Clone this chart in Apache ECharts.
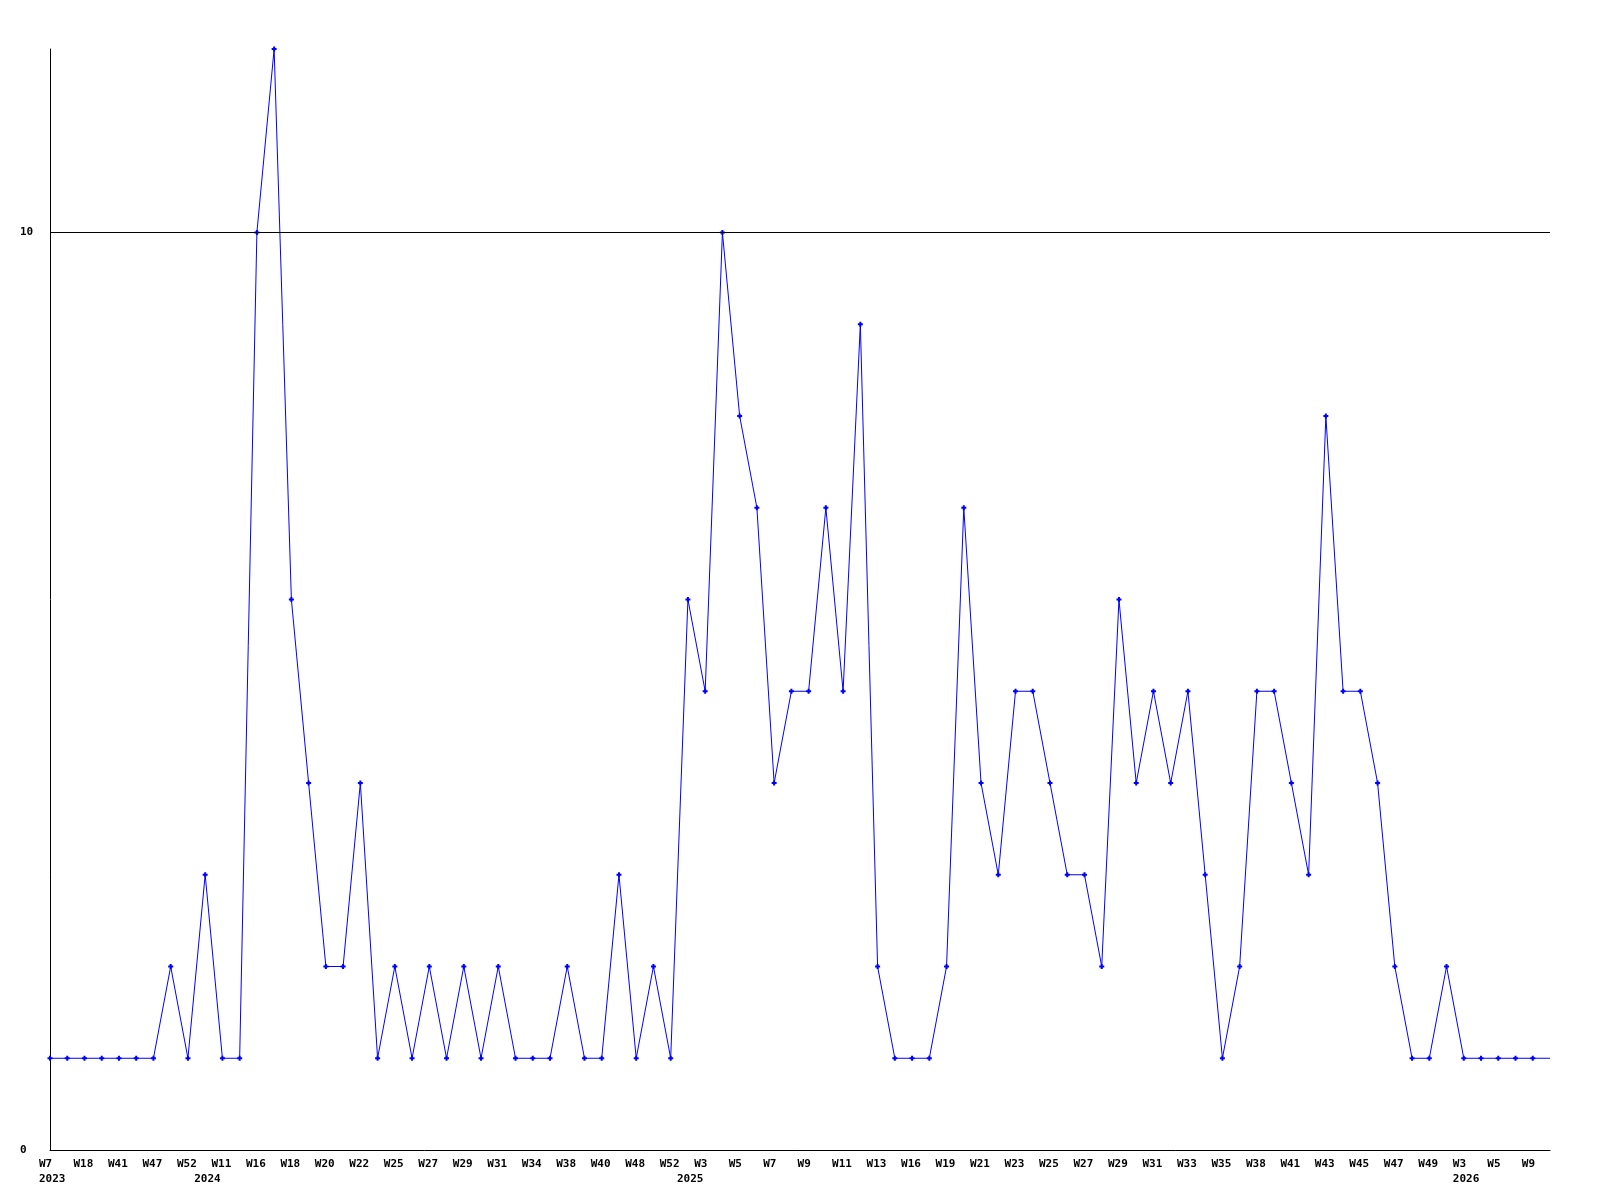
<!DOCTYPE html>
<html>
<head>
<meta charset="utf-8">
<script src="https://cdn.jsdelivr.net/npm/echarts@6/dist/echarts.min.js"></script>
<style>
  html, body { margin: 0; padding: 0; background: #fff; }
  #chart { width: 1600px; height: 1200px; }
</style>
</head>
<body>
<div id="chart"></div>
<script>
// one entry per observation, only every other week label is printed
const weeks = [
  "W7", "W12", "W18", "W35", "W41", "W45", "W47", "W50", "W52", "W5",
  "W11", "W14", "W16", "W17", "W18", "W19", "W20", "W21", "W22", "W24",
  "W25", "W26", "W27", "W28", "W29", "W30", "W31", "W33", "W34", "W36",
  "W38", "W39", "W40", "W44", "W48", "W50", "W52", "W2", "W3", "W4",
  "W5", "W6", "W7", "W8", "W9", "W10", "W11", "W12", "W13", "W15",
  "W16", "W18", "W19", "W20", "W21", "W22", "W23", "W24", "W25", "W26",
  "W27", "W28", "W29", "W30", "W31", "W32", "W33", "W34", "W35", "W37",
  "W38", "W40", "W41", "W42", "W43", "W44", "W45", "W46", "W47", "W48",
  "W49", "W51", "W3", "W4", "W5", "W7", "W9"
];
const yearIndex = [0, 9, 37, 82];
const yearText = ["2023", "2024", "2025", "2026"];
const values = [
  1, 1, 1, 1, 1, 1, 1, 2, 1, 3,
  1, 1, 10, 12, 6, 4, 2, 2, 4, 1,
  2, 1, 2, 1, 2, 1, 2, 1, 1, 1,
  2, 1, 1, 3, 1, 2, 1, 6, 5, 10,
  8, 7, 4, 5, 5, 7, 5, 9, 2, 1,
  1, 1, 2, 7, 4, 3, 5, 5, 4, 3,
  3, 2, 6, 4, 5, 4, 5, 3, 1, 2,
  5, 5, 4, 3, 8, 5, 5, 4, 2, 1,
  1, 2, 1, 1, 1, 1, 1
];
// current (unfinished) week, drawn as a line without a marker
const currentValue = 1;
const yTicks = [0, 10];

const chart = echarts.init(document.getElementById("chart"));
const font = "'DejaVu Sans Mono', monospace";

const points = values.map((v, i) => [i, v]);
points.push({ value: [values.length, currentValue], symbol: "none" });

const option = {
  animation: false,
  backgroundColor: "#fff",
  grid: { left: 50, right: 50, top: 49, bottom: 50 },
  xAxis: {
    type: "value",
    min: 0,
    max: values.length,
    interval: 1,
    splitLine: { show: false },
    axisTick: { show: false },
    axisLine: { lineStyle: { color: "#000", width: 1 } },
    axisLabel: {
      margin: 7,
      align: "center",
      showMinLabel: true,
      showMaxLabel: true,
      formatter: function (v) {
        const i = Math.round(v);
        if (i >= weeks.length) return "";
        const yi = yearIndex.indexOf(i);
        const wk = i % 2 === 0 ? weeks[i] : "";
        if (!wk && yi < 0) return "";
        let s = "{a|" + (wk || " ") + "}";
        if (yi >= 0) s += "\n{a|" + yearText[yi] + "}";
        return s;
      },
      rich: {
        a: {
          width: 22,
          align: "left",
          lineHeight: 15,
          fontFamily: font,
          fontWeight: "bold",
          fontSize: 11,
          color: "#000"
        }
      }
    }
  },
  yAxis: {
    type: "value",
    min: 0,
    max: 12,
    interval: 10,
    splitLine: { show: false },
    axisTick: { show: false },
    axisLine: { show: true, lineStyle: { color: "#000", width: 1 } },
    axisLabel: {
      margin: 30,
      align: "left",
      color: "#000",
      fontFamily: font,
      fontWeight: "bold",
      fontSize: 11,
      formatter: function (v) {
        return yTicks.indexOf(v) >= 0 ? String(v) : "";
      }
    }
  },
  series: [
    {
      type: "line",
      data: points,
      symbol: "path://M1.5,0H3.5V1.5H5V3.5H3.5V5H1.5V3.5H0V1.5H1.5Z",
      symbolSize: 5,
      showAllSymbol: true,
      lineStyle: { color: "#0000ff", width: 1 },
      itemStyle: { color: "#0000ff", borderWidth: 0 },
      markLine: {
        silent: true,
        symbol: "none",
        label: { show: false },
        lineStyle: { color: "#000", width: 1, type: "solid" },
        data: [{ yAxis: yTicks[1] }]
      },
      z: 3
    }
  ]
};
chart.setOption(option);
</script>
</body>
</html>
